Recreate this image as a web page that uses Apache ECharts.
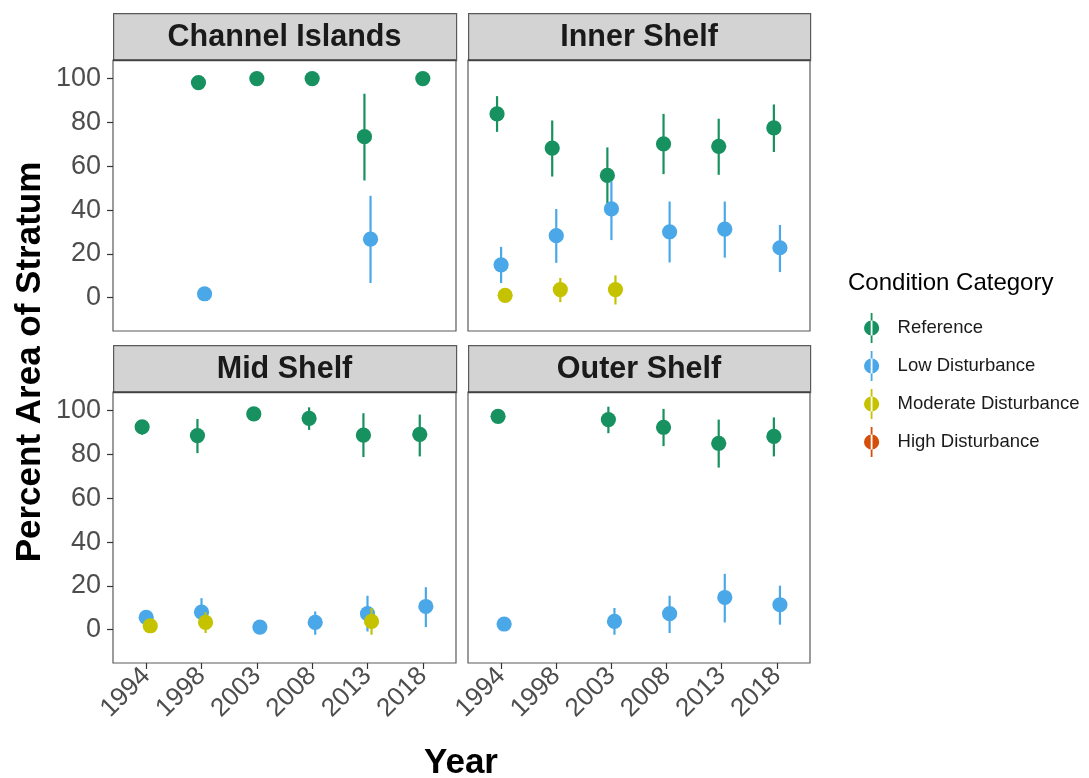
<!DOCTYPE html>
<html>
<head>
<meta charset="utf-8">
<script src="https://cdn.jsdelivr.net/npm/echarts@6/dist/echarts.min.js"></script>
<style>
  html, body { margin: 0; padding: 0; background: #ffffff; }
  #chart { width: 1089px; height: 778px; }
</style>
</head>
<body>
<div id="chart"></div>
<script>
// Survey years shown on each panel's x axis
const years = ['1994', '1998', '2003', '2008', '2013', '2018'];
const yTicks = [0, 20, 40, 60, 80, 100];

// Condition categories, in drawing/legend order
const categories = ['Reference', 'Low Disturbance', 'Moderate Disturbance', 'High Disturbance'];

// Each entry: [estimate, lower bound, upper bound] in percent area; null = not sampled/absent
const channelReference = [null, [98.2, 97.6, 98.8], [100, 100, 100], [100, 100, 100], [73.5, 53.5, 93.1], [100, 100, 100]];
const channelLow       = [null, [1.8, 1.2, 2.4], null, null, [26.7, 6.7, 46.5], null];
const channelModerate  = [null, null, null, null, null, null];
const channelHigh      = [null, null, null, null, null, null];

const innerReference = [[83.9, 75.7, 92.0], [68.3, 55.3, 80.9], [55.8, 43.1, 68.6], [70.2, 56.4, 83.9], [69.1, 56.1, 81.7], [77.5, 66.5, 88.2]];
const innerLow       = [[15.0, 6.7, 23.2], [28.3, 15.9, 40.5], [40.5, 26.3, 53.0], [30.1, 16.1, 43.9], [31.3, 18.3, 43.9], [22.8, 11.7, 33.2]];
const innerModerate  = [[1.1, 0.6, 1.6], [3.7, -2.0, 9.0], [3.7, -3.1, 10.2], null, null, null];
const innerHigh      = [null, null, null, null, null, null];

const midReference = [[92.6, 89.0, 95.5], [88.6, 80.6, 96.2], [98.5, 98.0, 99.0], [96.5, 91.2, 101.5], [88.8, 78.8, 98.8], [89.2, 79.1, 98.2]];
const midLow       = [[5.6, 4.6, 6.6], [8.0, 1.6, 14.4], [1.2, 0.8, 1.6], [3.3, -2.3, 8.3], [7.3, -0.8, 15.5], [10.6, 1.2, 19.4]];
const midModerate  = [[1.8, 1.2, 2.4], [3.3, -1.5, 8.0], null, null, [3.8, -2.3, 9.9], null];
const midHigh      = [null, null, null, null, null, null];

const outerReference = [[97.4, 96.9, 97.9], null, [95.9, 89.7, 101.8], [92.4, 83.8, 100.8], [85.1, 74.0, 95.9], [88.2, 79.1, 96.9]];
const outerLow       = [[2.6, 2.1, 3.1], null, [3.8, -2.3, 9.9], [7.3, -1.5, 15.5], [14.7, 3.3, 25.5], [11.4, 2.3, 20.1]];
const outerModerate  = [null, null, null, null, null, null];
const outerHigh      = [null, null, null, null, null, null];

const panelTitles = ['Channel Islands', 'Inner Shelf', 'Mid Shelf', 'Outer Shelf'];
const panelSeries = [
  [channelReference, channelLow, channelModerate, channelHigh],
  [innerReference, innerLow, innerModerate, innerHigh],
  [midReference, midLow, midModerate, midHigh],
  [outerReference, outerLow, outerModerate, outerHigh]
];

const colors = ['#17915F', '#4BA8E8', '#C5C300', '#D4500A'];

// Panel geometry
const panelRect = [
  { left: 113, top: 60, width: 343, height: 271 },
  { left: 468, top: 60, width: 342, height: 271 },
  { left: 113, top: 392, width: 343, height: 271 },
  { left: 468, top: 392, width: 342, height: 271 }
];
const stripHeight = 47;
const dodgeWidth = 0.22;

const chart = echarts.init(document.getElementById('chart'), null, { renderer: 'canvas' });

function renderPointRange(params, api) {
  const x = api.value(0), y = api.value(1), lo = api.value(2), hi = api.value(3);
  const c = api.coord([x, y]);
  const cl = api.coord([x, lo]);
  const ch = api.coord([x, hi]);
  const color = api.visual('color');
  return {
    type: 'group',
    children: [
      { type: 'line', shape: { x1: c[0], y1: ch[1], x2: c[0], y2: cl[1] },
        style: { stroke: color, lineWidth: 2.2 } },
      { type: 'circle', shape: { cx: c[0], cy: c[1], r: 7.6 },
        style: { fill: color } }
    ]
  };
}

const grids = [], xAxes = [], yAxes = [], series = [], graphics = [];

panelSeries.forEach((groups, p) => {
  const r = panelRect[p];
  const isBottom = p >= 2, isLeft = p % 2 === 0;
  grids.push({ left: r.left, top: r.top, width: r.width, height: r.height,
    show: true, borderColor: '#5a5a5a', borderWidth: 1.2, backgroundColor: '#ffffff', containLabel: false });
  xAxes.push({
    gridIndex: p, type: 'value', min: 0.4, max: 6.6, position: 'bottom',
    axisLine: { show: false, onZero: false },
    splitLine: { show: false },
    axisTick: { show: isBottom, length: 6, inside: false, customValues: [1, 2, 3, 4, 5, 6],
      lineStyle: { color: '#333333', width: 1.2 } },
    axisLabel: { show: isBottom, customValues: [1, 2, 3, 4, 5, 6], rotate: 45, margin: 9,
      formatter: v => years[Math.round(v) - 1],
      fontFamily: 'Liberation Sans', fontSize: 26, color: '#4d4d4d' }
  });
  yAxes.push({
    gridIndex: p, type: 'value', min: -15.2, max: 108.5, position: 'left',
    axisLine: { show: false, onZero: false },
    splitLine: { show: false },
    axisTick: { show: isLeft, length: 6, customValues: yTicks,
      lineStyle: { color: '#333333', width: 1.2 } },
    axisLabel: { show: isLeft, customValues: yTicks, margin: 12,
      fontFamily: 'Liberation Sans', fontSize: 27, color: '#4d4d4d' }
  });

  // dodge positions per year, based on which categories are present
  const offsets = groups.map(() => years.map(() => 0));
  years.forEach((_, i) => {
    const present = groups.map((g, k) => g[i] ? k : -1).filter(k => k >= 0);
    const n = present.length;
    present.forEach((k, j) => {
      offsets[k][i] = n > 1 ? -dodgeWidth / 2 + dodgeWidth / n * (j + 0.5) : 0;
    });
  });

  groups.forEach((g, k) => {
    const data = [];
    g.forEach((d, i) => {
      if (d) data.push([i + 1 + offsets[k][i], d[0], d[1], d[2]]);
    });
    series.push({
      name: categories[k], type: 'custom', xAxisIndex: p, yAxisIndex: p,
      renderItem: renderPointRange, itemStyle: { color: colors[k] },
      encode: { x: 0, y: [1, 2, 3] },
      data: data, clip: false, z: 2 + k
    });
  });

  // facet strip
  graphics.push({
    type: 'rect', left: r.left, top: r.top - stripHeight, z: 10,
    shape: { width: r.width, height: stripHeight },
    style: { fill: '#d3d3d3', stroke: '#5a5a5a', lineWidth: 1.2 }
  });
  graphics.push({
    type: 'line', z: 11,
    shape: { x1: r.left, y1: r.top, x2: r.left + r.width, y2: r.top },
    style: { stroke: '#3a3a3a', lineWidth: 1.6 }
  });
  graphics.push({
    type: 'text', z: 12, x: r.left + r.width / 2, y: r.top - stripHeight / 2 + 1,
    style: { text: panelTitles[p], fontFamily: 'Liberation Sans', fontWeight: 'bold',
      fontSize: 30.5, fill: '#1a1a1a', align: 'center', verticalAlign: 'middle' }
  });
});

// axis titles
graphics.push({
  type: 'text', z: 12, x: 30, y: 362, rotation: Math.PI / 2,
  style: { text: 'Percent Area of Stratum', fontFamily: 'Liberation Sans', fontWeight: 'bold',
    fontSize: 35, fill: '#000000', align: 'center', verticalAlign: 'middle' }
});
graphics.push({
  type: 'text', z: 12, x: 461, y: 763,
  style: { text: 'Year', fontFamily: 'Liberation Sans', fontWeight: 'bold',
    fontSize: 35, fill: '#000000', align: 'center', verticalAlign: 'middle' }
});
// legend title
graphics.push({
  type: 'text', z: 12, x: 848, y: 283,
  style: { text: 'Condition Category', fontFamily: 'Liberation Sans',
    fontSize: 24, fill: '#000000', align: 'left', verticalAlign: 'middle' }
});

// point-range key glyph: vertical bar with a centred dot
const keyIcon = 'path://M7.1,0h1.8v30h-1.8z M0.4,15a7.6,7.6 0 1,0 15.2,0a7.6,7.6 0 1,0 -15.2,0z';

chart.setOption({
  backgroundColor: '#ffffff',
  animation: false,
  grid: grids,
  xAxis: xAxes,
  yAxis: yAxes,
  legend: {
    data: categories,
    orient: 'vertical',
    left: 859, top: 308,
    itemWidth: 16, itemHeight: 30, itemGap: 8,
    icon: keyIcon,
    selectedMode: false,
    textStyle: { fontFamily: 'Liberation Sans', fontSize: 18.5, color: '#1a1a1a', padding: [0, 0, 0, 13] }
  },
  series: series,
  graphic: graphics
});
</script>
</body>
</html>
